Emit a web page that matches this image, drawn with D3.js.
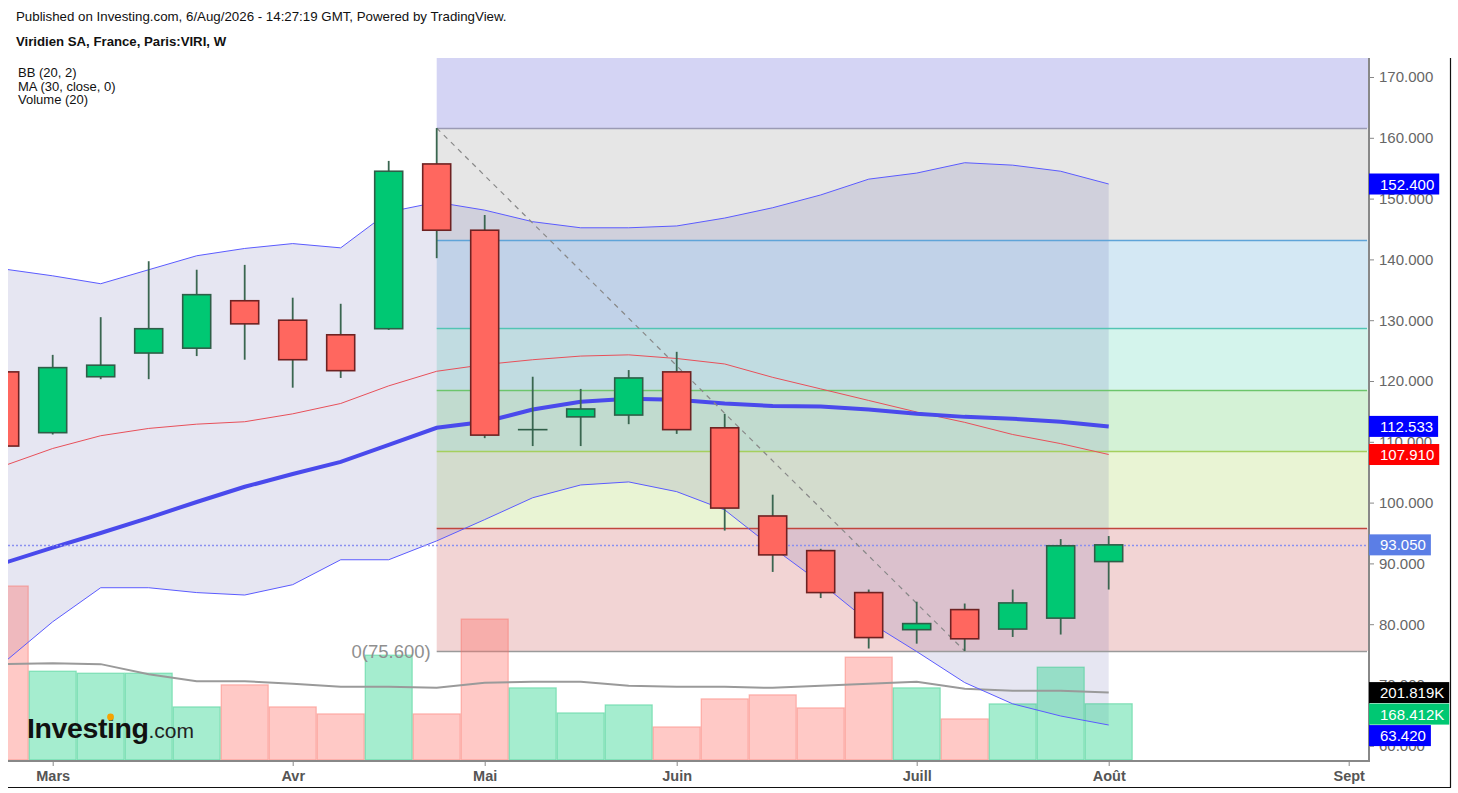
<!DOCTYPE html>
<meta charset="utf-8">
<style>
body { margin: 0; background: #fff; }
svg { display: block; font-family: "Liberation Sans", Arial, sans-serif; }
.axis path { display: none; }
.axis--y line, .axis--x line { stroke: #888; }
.axis--y text { fill: #666; font-size: 15px; }
.axis--x text { fill: #555; font-size: 14.5px; font-weight: bold; }
</style>
<svg width="1458" height="793"></svg>
<script src="https://cdn.jsdelivr.net/npm/d3@7"></script>
<script>
// weekly bars, Viridien SA (Paris:VIRI)
var weeks = ["2026-02-23","2026-03-02","2026-03-09","2026-03-16","2026-03-23","2026-03-30",
  "2026-04-06","2026-04-13","2026-04-20","2026-04-27","2026-05-04","2026-05-11","2026-05-18",
  "2026-05-25","2026-06-01","2026-06-08","2026-06-15","2026-06-22","2026-06-29","2026-07-06",
  "2026-07-13","2026-07-20","2026-07-27","2026-08-03"];
var open  = [121.5,111.5,120.7,124.6,125.4,133.2,130.0,127.6,128.6,155.7,144.8,112.0,114.1,114.4,121.5,112.3,97.8,92.1,85.2,79.1,82.4,79.2,81.0,90.3];
var high  = [122.5,124.3,130.5,139.7,138.3,139.1,133.7,132.7,156.2,161.6,147.3,120.7,118.7,121.8,124.8,114.6,101.3,92.4,85.7,83.7,83.4,85.7,94.0,94.5];
var low   = [108.5,111.2,120.3,120.3,124.1,123.5,118.9,120.5,128.4,140.2,110.6,109.3,109.3,112.9,111.3,95.4,88.6,84.3,76.0,76.8,75.6,77.9,78.3,85.7];
var close = [109.3,122.2,122.6,128.6,134.2,129.4,123.5,121.7,154.5,144.8,111.1,112.0,115.4,120.5,112.0,99.1,91.4,85.2,77.8,80.1,77.6,83.5,92.9,93.05];
var volume = [521,266,260,260,159,225,159,138,314,138,422,216,141,165,99,183,195,156,308,216,123,168,278,168.412];
var volumeMa = [287,290,287,257,236,236,228,219,219,216,231,234,234,222,219,219,216,222,228,234,213,207,207,201.819];
var bbUpper = [138.4,137.3,136.0,138.3,140.6,141.8,142.6,141.9,147.8,149.4,148.1,146.2,145.2,145.2,145.5,146.8,148.5,150.6,153.2,154.2,155.9,155.5,154.5,152.4];
var bbBasis = [106.1,108.9,111.0,112.2,112.9,113.3,114.6,116.3,119.2,121.6,122.7,123.5,124.1,124.3,123.7,122.8,120.6,118.7,116.8,114.9,113.2,111.2,109.7,107.91];
var bbLower = [73.8,80.4,86.0,86.0,85.2,84.8,86.5,90.6,90.6,93.7,97.2,100.8,102.9,103.4,101.8,98.8,92.6,86.8,80.4,75.5,70.4,66.9,64.9,63.42];
var ma30 = [90.1,92.6,95.0,97.5,100.1,102.6,104.7,106.7,109.5,112.3,113.3,115.3,116.6,117.1,116.9,116.3,115.9,115.8,115.3,114.6,114.1,113.8,113.3,112.533];

var monthDates = ["2026-03-02","2026-04-06","2026-05-04","2026-06-01","2026-07-06","2026-08-03","2026-09-07"];
var monthLabels = ["Mars","Avr","Mai","Juin","Juill","Août","Sept"];
var priceTicks = [60,70,80,90,100,110,120,130,140,150,160,170];

// fibonacci retracement drawn from the April high to the July low
var fibHigh = 161.6, fibLow = 75.6, fibFrom = 9, fibTo = 20;
var fibLevels = [0, 0.236, 0.382, 0.5, 0.618, 0.786, 1, 1.618];
var fibFills = ["#f2d4d4","#e9f4d4","#d4f2d6","#d4f4ec","#d4e8f4","#e6e6e6","#d4d4f4"];
var fibLines = ["#9a9a9a","#c0463c","#a5cf5e","#6cc56c","#52c4b4","#5fa4d8","#9a9ab4"];

var parse = d3.utcParse("%Y-%m-%d");
var bars = weeks.map(function(w, i) {
  return {date: parse(w), open: open[i], high: high[i], low: low[i], close: close[i],
    volume: volume[i], volumeMa: volumeMa[i], up: bbUpper[i], mid: bbBasis[i], dn: bbLower[i], ma: ma30[i]};
});

var svg = d3.select("svg"),
    plotL = 8, plotR = 1369, plotT = 58, plotB = 760;

var x = d3.scaleUtc().domain([parse("2026-02-23"), parse("2026-09-07")]).range([4.7, 1348.7]),
    y = d3.scaleLinear().domain([60, 170]).range([745.8, 77]),
    v = d3.scaleLinear().domain([0, 600]).range([plotB, plotB - 200.4]);

svg.append("defs").append("clipPath").attr("id", "plot")
  .append("rect").attr("x", plotL).attr("y", plotT).attr("width", plotR - plotL).attr("height", plotB - plotT);

var g = svg.append("g").attr("clip-path", "url(#plot)");

// fib zones
var fx0 = x(bars[fibFrom].date);
var fibPrice = function(l) { return fibLow + (fibHigh - fibLow) * l; };
g.selectAll(".fibzone").data(fibFills).enter().append("rect")
    .attr("x", fx0)
    .attr("width", plotR - fx0)
    .attr("y", function(d, i) { return y(fibPrice(fibLevels[i + 1])); })
    .attr("height", function(d, i) { return y(fibPrice(fibLevels[i])) - y(fibPrice(fibLevels[i + 1])); })
    .attr("fill", function(d) { return d; });

// bollinger fill
g.append("path")
    .datum(bars)
    .attr("fill", "rgba(88,88,168,0.15)")
    .attr("d", d3.area().x(function(d) { return x(d.date); })
      .y0(function(d) { return y(d.dn); }).y1(function(d) { return y(d.up); }));

g.selectAll(".fibline").data(fibLevels.slice(0, 7)).enter().append("line")
    .attr("x1", fx0).attr("x2", plotR - 2)
    .attr("y1", function(d) { return Math.round(y(fibPrice(d))) + 0.5; })
    .attr("y2", function(d) { return Math.round(y(fibPrice(d))) + 0.5; })
    .attr("stroke", function(d, i) { return fibLines[i]; })
    .attr("stroke-width", 1.3);

// volume
var bw = x(bars[1].date) - x(bars[0].date);
g.selectAll(".vol").data(bars).enter().append("rect")
    .attr("x", function(d) { return x(d.date) - bw / 2 + 0.5; })
    .attr("width", bw - 1)
    .attr("y", function(d) { return v(d.volume); })
    .attr("height", function(d) { return plotB - v(d.volume); })
    .attr("fill", function(d) { return d.close >= d.open ? "rgba(30,210,135,0.4)" : "rgba(255,112,106,0.38)"; })
    .attr("stroke", function(d) { return d.close >= d.open ? "rgba(40,200,130,0.45)" : "rgba(250,110,100,0.45)"; })
    .attr("stroke-width", 1.2);

var line = function(key) {
  return d3.line().x(function(d) { return x(d.date); }).y(function(d) { return key === "volumeMa" ? v(d[key]) : y(d[key]); });
};

g.append("path").datum(bars).attr("fill", "none").attr("stroke", "#9a9a9a").attr("stroke-width", 2).attr("d", line("volumeMa"));
g.append("path").datum(bars).attr("fill", "none").attr("stroke", "#5b5bff").attr("stroke-width", 1).attr("d", line("up"));
g.append("path").datum(bars).attr("fill", "none").attr("stroke", "#5b5bff").attr("stroke-width", 1).attr("d", line("dn"));
g.append("path").datum(bars).attr("fill", "none").attr("stroke", "#e8505a").attr("stroke-width", 1).attr("d", line("mid"));
g.append("path").datum(bars).attr("fill", "none").attr("stroke", "#4a4aec").attr("stroke-width", 4).attr("d", line("ma"));

// last price line
var last = bars[bars.length - 1];
g.append("line")
    .attr("x1", plotL).attr("x2", plotR)
    .attr("y1", Math.round(y(last.close)) + 0.5).attr("y2", Math.round(y(last.close)) + 0.5)
    .attr("stroke", "#8a90f0").attr("stroke-width", 1.3).attr("stroke-dasharray", "2,2");

// trend line from fib high to fib low
g.append("line")
    .attr("x1", x(bars[fibFrom].date)).attr("y1", y(fibHigh))
    .attr("x2", x(bars[fibTo].date)).attr("y2", y(fibLow))
    .attr("stroke", "#888").attr("stroke-width", 1.2).attr("stroke-dasharray", "5,5");

// candles
var cw = 28;
var candle = g.selectAll(".candle").data(bars).enter().append("g");
candle.append("line")
    .attr("x1", function(d) { return x(d.date); }).attr("x2", function(d) { return x(d.date); })
    .attr("y1", function(d) { return y(d.high); }).attr("y2", function(d) { return y(d.low); })
    .attr("stroke", "#3a6650").attr("stroke-width", 1.8);
candle.append("rect")
    .attr("x", function(d) { return x(d.date) - cw / 2; })
    .attr("width", cw)
    .attr("y", function(d) { return y(Math.max(d.open, d.close)); })
    .attr("height", function(d) { return Math.max(0.01, Math.abs(y(d.open) - y(d.close))); })
    .attr("fill", function(d) { return d.close >= d.open ? "#00c873" : "#ff675f"; })
    .attr("stroke", function(d) { return d.close >= d.open ? "#2f5e48" : "#6e2222"; })
    .attr("stroke-width", 1.6);

g.append("text")
    .attr("x", fx0 - 6).attr("y", y(fibLow) + 7)
    .attr("text-anchor", "end")
    .attr("fill", "#8f8f8f")
    .style("font-size", "18.5px")
    .text("0(" + d3.format(".3f")(fibLow) + ")");

// axes
svg.append("g")
    .attr("class", "axis axis--y")
    .attr("transform", "translate(" + plotR + ",0)")
    .call(d3.axisRight(y).tickValues(priceTicks).tickFormat(d3.format(".3f")).tickSize(5).tickPadding(5));

svg.append("g")
    .attr("class", "axis axis--x")
    .attr("transform", "translate(0," + (plotB + 1) + ")")
    .call(d3.axisBottom(x).tickValues(monthDates.map(parse)).tickFormat(function(d, i) { return monthLabels[i]; }).tickSize(5).tickPadding(5));

svg.append("line").attr("x1", plotR).attr("x2", plotR).attr("y1", plotT).attr("y2", plotB + 2)
    .attr("stroke", "#888").attr("stroke-width", 2);
svg.append("line").attr("x1", plotL).attr("x2", plotR + 1).attr("y1", plotB + 1).attr("y2", plotB + 1)
    .attr("stroke", "#888").attr("stroke-width", 2);
svg.append("line").attr("x1", 1450.5).attr("x2", 1450.5).attr("y1", plotT).attr("y2", 787.5)
    .attr("stroke", "#111").attr("stroke-width", 1.2);
svg.append("line").attr("x1", plotL).attr("x2", 1451).attr("y1", 787.5).attr("y2", 787.5)
    .attr("stroke", "#111").attr("stroke-width", 1.2);

// last value tags on the price axis
var tags = [
  {v: y(last.up), text: d3.format(".3f")(last.up), bg: "#0000ff"},
  {v: y(last.ma), text: d3.format(".3f")(last.ma), bg: "#0000ff"},
  {v: y(last.mid), text: d3.format(".3f")(last.mid), bg: "#ff0000"},
  {v: y(last.close), text: d3.format(".3f")(last.close), bg: "#5b7ee6"},
  {v: v(last.volumeMa), text: d3.format(".3f")(last.volumeMa) + "K", bg: "#000000"},
  {v: v(last.volume), text: d3.format(".3f")(last.volume) + "K", bg: "#00c873"},
  {v: y(last.dn), text: d3.format(".3f")(last.dn), bg: "#0000ff"}
].sort(function(a, b) { return a.v - b.v; });
var th = 21, prev = -Infinity;
tags.forEach(function(t) {
  t.top = Math.max(t.v - th / 2, prev);
  prev = t.top + th + 0.5;
});
var tag = svg.selectAll(".tag").data(tags).enter().append("g");
tag.append("rect").attr("class", "bg");
tag.append("text")
    .attr("x", 1380)
    .attr("y", function(d) { return d.top + th / 2 + 5.5; })
    .attr("fill", "#fff")
    .style("font-size", "15px")
    .text(function(d) { return d.text; });
tag.select("rect")
    .attr("x", plotR)
    .attr("y", function(d) { return d.top; })
    .attr("height", th)
    .attr("width", function(d) { return this.parentNode.querySelector("text").getComputedTextLength() + 16; })
    .attr("fill", function(d) { return d.bg; });

// header
svg.append("text").attr("x", 16).attr("y", 21).style("font-size", "13.3px").attr("fill", "#111")
    .text("Published on Investing.com, 6/Aug/2026 - 14:27:19 GMT, Powered by TradingView.");
svg.append("text").attr("x", 16).attr("y", 46).style("font-size", "13.2px").style("font-weight", "bold").attr("fill", "#111")
    .text("Viridien SA, France, Paris:VIRI, W");
["BB (20, 2)", "MA (30, close, 0)", "Volume (20)"].forEach(function(s, i) {
  svg.append("text").attr("x", 18).attr("y", 77 + i * 13.5).style("font-size", "13px").attr("fill", "#111").text(s);
});

// logo
var logo = svg.append("text").attr("x", 27).attr("y", 738);
logo.append("tspan").style("font-size", "28.5px").style("font-weight", "bold").style("letter-spacing", "-0.4px").attr("fill", "#111").text("Investing");
logo.append("tspan").style("font-size", "21px").attr("fill", "#222").text(".com");
var iBox = logo.node().getExtentOfChar(6);
svg.append("circle").attr("cx", iBox.x + iBox.width / 2 - 0.2).attr("cy", 717).attr("r", 3.4).attr("fill", "#f5a300");
</script>
